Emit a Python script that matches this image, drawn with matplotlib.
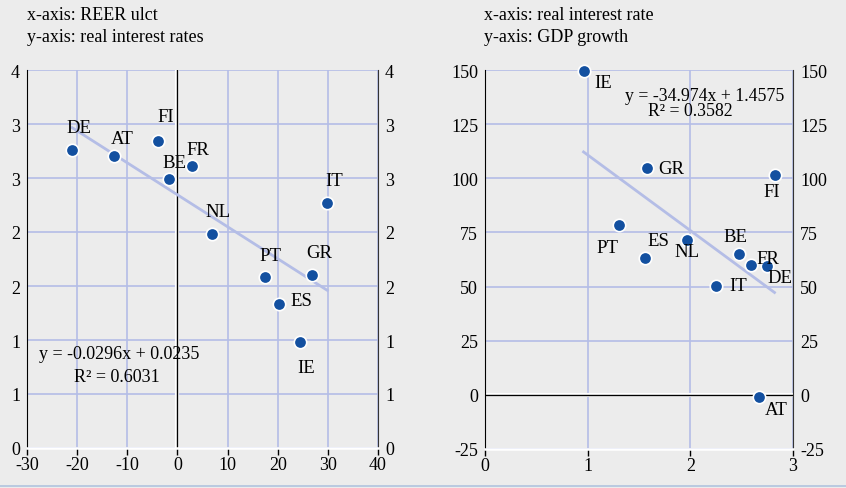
import numpy as np
import matplotlib
matplotlib.use("Agg")
import matplotlib.pyplot as plt

# left panel: REER ulct vs real interest rates
l_names = ["DE", "AT", "FI", "BE", "FR", "NL", "IT", "PT", "ES", "GR", "IE"]
l_x = [-21.0, -12.6, -3.9, -1.7, 3.0, 6.8, 29.9, 17.4, 20.3, 26.8, 24.5]
l_y = [3.26, 3.20, 3.34, 2.99, 3.11, 2.48, 2.77, 2.08, 1.83, 2.10, 1.48]
l_yticks = [0.5, 1.0, 1.5, 2.0, 2.5, 3.0, 3.5, 4.0]
l_yticklabels = ["0", "1", "1", "2", "2", "3", "3", "4"]
l_xticks = [-30, -20, -10, 0, 10, 20, 30, 40]

# right panel: real interest rate vs GDP growth
r_names = ["IE", "GR", "FI", "PT", "ES", "NL", "BE", "FR", "DE", "IT", "AT"]
r_x = [0.96, 1.58, 2.82, 1.31, 1.557, 1.966, 2.476, 2.589, 2.742, 2.247, 2.67]
r_y = [149.4, 104.7, 101.6, 78.5, 63.1, 71.4, 65.2, 59.9, 59.4, 50.3, -0.8]
r_yticks = [-25, 0, 25, 50, 75, 100, 125, 150]
r_xticks = [0, 1, 2, 3]

# label offsets in points (dx, dy)
l_off = {"DE": (5, 16), "AT": (6, 13), "FI": (6, 18), "BE": (4, 12), "FR": (4, 12),
         "NL": (5, 16), "IT": (5, 16), "PT": (4, 16), "ES": (16, 3), "GR": (5, 16),
         "IE": (4, -18)}
r_off = {"IE": (14, -8), "GR": (17, 0), "FI": (-2, -12), "PT": (-9, -16), "ES": (10, 13),
         "NL": (0, -8), "BE": (-3, 12), "FR": (12, 5), "DE": (10, -8), "IT": (16, 0),
         "AT": (12, -9)}

BG = "#ececec"
GRID = "#b4bde6"
DOT = "#1350a0"
plt.rcParams["font.family"] = ["Liberation Serif", "DejaVu Serif"]
plt.rcParams["font.size"] = 13
plt.rcParams["axes.unicode_minus"] = False

fig = plt.figure(figsize=(8.46, 4.89), dpi=100, facecolor=BG)
W, H = 846, 489


def px_axes(x0, y0, x1, y1):
    return fig.add_axes([x0 / W, 1 - y1 / H, (x1 - x0) / W, (y1 - y0) / H])


def style(ax, xticks, yticks, ylabels, xlim, ylim):
    ax.set_facecolor(BG)
    ax.set_xlim(*xlim)
    ax.set_ylim(*ylim)
    ax.set_xticks(xticks)
    ax.set_yticks(yticks)
    ax.set_yticklabels(ylabels)
    ax.grid(True, color=GRID, linewidth=1.2, zorder=0)
    ax.set_axisbelow(True)
    ax.spines["top"].set_visible(False)
    ax.spines["left"].set_color("black")
    ax.spines["right"].set_color("#333333")
    ax.spines["bottom"].set_color("white")
    ax.spines["bottom"].set_linewidth(1.8)
    ax.tick_params(axis="x", direction="out", length=5, width=1, color="black", pad=1)
    ax.tick_params(axis="y", length=0, pad=5, labelright=True, right=False)


def panel(ax, xs, ys, names, offs):
    b, a = np.polyfit(xs, ys, 1)
    xr = np.array([min(xs), max(xs)])
    ax.plot(xr, b * xr + a, color=GRID, linewidth=2, zorder=2)
    ax.scatter(xs, ys, s=80, color=DOT, edgecolor="white", linewidth=1.2, zorder=4, clip_on=False)
    for n, x, y in zip(names, xs, ys):
        dx, dy = offs[n]
        ax.annotate(n, (x, y), xytext=(dx, dy), textcoords="offset points",
                    ha="center", va="center", fontsize=13.5, zorder=5)


# left
axl = px_axes(27, 71, 378, 449)
style(axl, l_xticks, l_yticks, l_yticklabels, (-30, 40), (0.5, 4.0))
axl.axvline(0, color="white", linewidth=3, zorder=1)
axl.axvline(0, color="black", linewidth=1, zorder=1)
panel(axl, l_x, l_y, l_names, l_off)
axl.text(0.034, 0.249, "y = -0.0296x + 0.0235", transform=axl.transAxes, va="center", fontsize=13)
axl.text(0.134, 0.19, "R² = 0.6031", transform=axl.transAxes, va="center", fontsize=13)

# right
axr = px_axes(485, 71, 793, 450)
style(axr, r_xticks, r_yticks, [str(v) for v in r_yticks], (0, 3), (-25, 150))
axr.axhline(0, color="white", linewidth=3, zorder=1)
axr.axhline(0, color="black", linewidth=1, zorder=1)
panel(axr, r_x, r_y, r_names, r_off)
axr.text(0.972, 0.934, "y = -34.974x + 1.4575", transform=axr.transAxes, ha="right", va="center",
         fontsize=12.8)
axr.text(0.666, 0.892, "R² = 0.3582", transform=axr.transAxes, ha="center", va="center", fontsize=12.8)

# headers
fig.text(27 / W, 1 - 15 / H, "x-axis: REER ulct", va="center", fontsize=13)
fig.text(27 / W, 1 - 37 / H, "y-axis: real interest rates", va="center", fontsize=13)
fig.text(484 / W, 1 - 15 / H, "x-axis: real interest rate", va="center", fontsize=13)
fig.text(484 / W, 1 - 37 / H, "y-axis: GDP growth", va="center", fontsize=13)

fig.add_artist(plt.Line2D([0, 1], [1 - 487 / H, 1 - 487 / H], color="#b0c4de", linewidth=1.2))

fig.savefig("out.png", dpi=100, facecolor=BG)
